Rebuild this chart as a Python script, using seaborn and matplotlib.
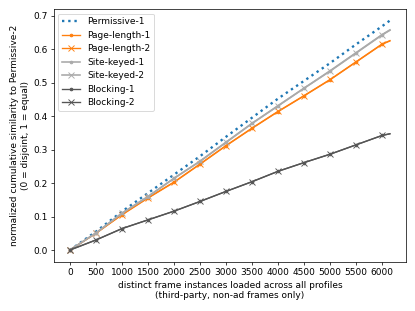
import matplotlib
matplotlib.use("Agg")
import matplotlib.pyplot as plt
import seaborn as sns
import pandas as pd

frames = [0, 500, 1000, 1500, 2000, 2500, 3000, 3500, 4000, 4500, 5000, 5500, 6000, 6150]

permissive_1 = [0.0, 0.055, 0.115, 0.170, 0.225, 0.280, 0.338, 0.395, 0.452, 0.505, 0.558, 0.614, 0.668, 0.685]
page_length_1 = [0.0, 0.050, 0.105, 0.155, 0.202, 0.256, 0.311, 0.363, 0.413, 0.460, 0.508, 0.561, 0.614, 0.624]
page_length_2 = [0.0, 0.050, 0.106, 0.156, 0.203, 0.257, 0.312, 0.364, 0.414, 0.461, 0.509, 0.562, 0.615, 0.625]
site_keyed_1 = [0.0, 0.051, 0.110, 0.159, 0.214, 0.265, 0.321, 0.378, 0.430, 0.483, 0.534, 0.588, 0.642, 0.656]
site_keyed_2 = [0.0, 0.051, 0.110, 0.160, 0.214, 0.265, 0.322, 0.378, 0.431, 0.483, 0.535, 0.589, 0.643, 0.657]
blocking_1 = [0.0, 0.030, 0.064, 0.090, 0.116, 0.145, 0.175, 0.204, 0.235, 0.261, 0.286, 0.314, 0.342, 0.347]
blocking_2 = [0.0, 0.030, 0.064, 0.090, 0.116, 0.145, 0.175, 0.204, 0.235, 0.261, 0.286, 0.314, 0.342, 0.347]

series = [
    ("Permissive-1", permissive_1, dict(color="#1f77b4", linestyle=":", linewidth=2.6)),
    ("Page-length-1", page_length_1, dict(color="#ff7f0e", marker=".", linewidth=1.5)),
    ("Page-length-2", page_length_2, dict(color="#ff7f0e", marker="x", linewidth=1.5)),
    ("Site-keyed-1", site_keyed_1, dict(color="#aaaaaa", marker=".", linewidth=1.8)),
    ("Site-keyed-2", site_keyed_2, dict(color="#aaaaaa", marker="x", linewidth=1.8)),
    ("Blocking-1", blocking_1, dict(color="#555555", marker=".", linewidth=1.5)),
    ("Blocking-2", blocking_2, dict(color="#555555", marker="x", linewidth=1.5)),
]

fig = plt.figure(figsize=(6.4, 4.8), dpi=64.85)
ax = fig.add_axes([0.130, 0.159, 0.848, 0.811])

for name, vals, kw in series:
    df = pd.DataFrame({"x": frames, "y": vals})
    extra = {}
    if "marker" in kw:
        extra = dict(markevery=list(range(len(frames) - 1)),
                     markersize=6, markeredgecolor=kw["color"],
                     markerfacecolor=kw["color"], markeredgewidth=1.0)
    sns.lineplot(data=df, x="x", y="y", ax=ax, label=name, **kw, **extra)

ax.set_xticks(range(0, 6001, 500))
ax.set_yticks([0.0, 0.1, 0.2, 0.3, 0.4, 0.5, 0.6, 0.7])
ax.set_xlabel("distinct frame instances loaded across all profiles\n(third-party, non-ad frames only)")
ax.set_ylabel("normalized cumulative similarity to Permissive-2\n(0 = disjoint, 1 = equal)")
ax.legend(loc="upper left")

fig.savefig("out.png", dpi=64.85)
